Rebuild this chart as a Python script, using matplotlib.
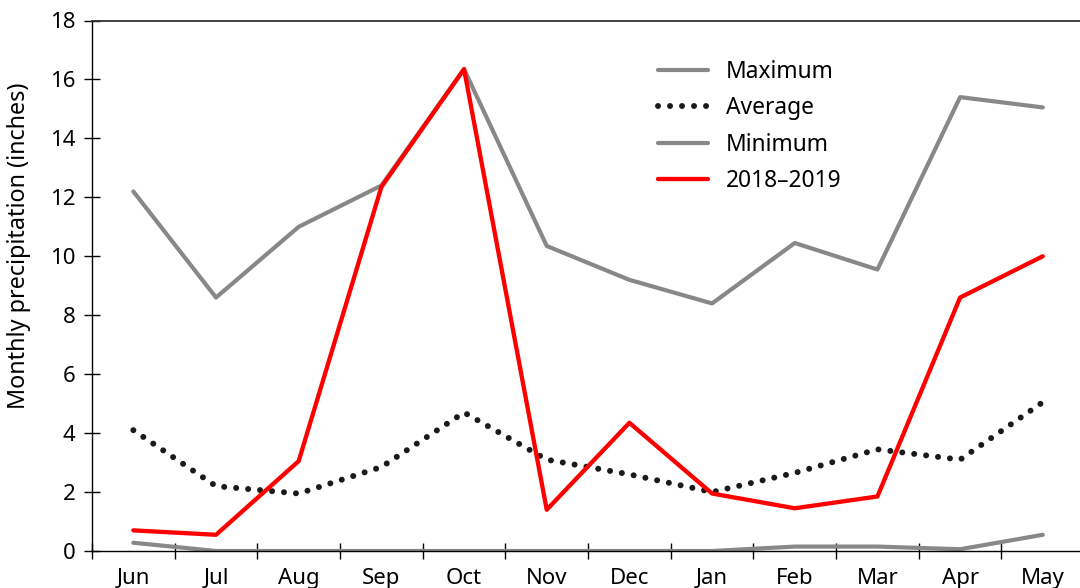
import matplotlib
matplotlib.use("Agg")
import matplotlib.pyplot as plt
import numpy as np

months = ["Jun", "Jul", "Aug", "Sep", "Oct", "Nov", "Dec", "Jan", "Feb", "Mar", "Apr", "May"]
maximum = [12.2, 8.6, 11.0, 12.4, 16.35, 10.35, 9.2, 8.4, 10.45, 9.55, 15.4, 15.05]
average = [4.1, 2.2, 1.95, 2.85, 4.7, 3.1, 2.6, 2.0, 2.65, 3.45, 3.1, 5.05]
minimum = [0.28, 0.0, 0.0, 0.0, 0.0, 0.0, 0.0, 0.0, 0.15, 0.15, 0.06, 0.55]
season_2018_2019 = [0.7, 0.55, 3.05, 12.35, 16.35, 1.4, 4.35, 1.95, 1.45, 1.85, 8.6, 10.0]
y_ticks = [0, 2, 4, 6, 8, 10, 12, 14, 16, 18]

plt.rcParams['font.family'] = ['Noto Sans', 'DejaVu Sans']

fig = plt.figure(figsize=(10.8, 5.88), dpi=100)
ax = fig.add_axes([92/1080, 1 - 551/588, 1 - 92/1080, (551 - 20.5)/588])

x = np.arange(len(months))
gray = "#888888"
ax.plot(x, maximum, color=gray, lw=3, solid_capstyle='round', solid_joinstyle='round', label="Maximum", zorder=2)
ax.plot(x, average, color="#1a1a1a", lw=4.3, linestyle=(0, (0.01, 2.0)), dash_capstyle='round', label="Average", zorder=3)
ax.plot(x, minimum, color=gray, lw=3, solid_capstyle='round', solid_joinstyle='round', label="Minimum", zorder=2)
ax.plot(x, season_2018_2019, color="#ff0000", lw=3.1, solid_capstyle='round', solid_joinstyle='round', label="2018\u20132019", zorder=4)

ax.set_xlim(-0.5, 11.45)
ax.set_ylim(0, 18)
ax.set_yticks(y_ticks)
ax.set_xticks(x)
ax.set_xticklabels(months)
ax.set_xticks(np.arange(-0.5, 11.0, 1.0), minor=True)

ax.tick_params(axis='x', which='major', length=0, pad=12, labelsize=16)
ax.tick_params(axis='x', which='minor', direction='inout', length=12, width=1)
ax.tick_params(axis='y', which='major', direction='inout', length=12, width=1, pad=6, labelsize=16)

for s in ['left', 'bottom', 'top']:
    ax.spines[s].set_linewidth(1.0)
    ax.spines[s].set_color('black')
ax.spines['top'].set_color('#333333')
ax.spines['top'].set_linewidth(1.3)
ax.spines['right'].set_visible(False)

ax.set_ylabel("Monthly precipitation (inches)", fontsize=16.8)
ax.yaxis.set_label_coords(-0.062, 0.575)

leg = ax.legend(loc='upper left', bbox_to_anchor=(0.552, 0.964), frameon=False, fontsize=16.4,
                handlelength=2.2, handletextpad=0.8, labelspacing=0.54)

fig.savefig("out.png", dpi=100)
